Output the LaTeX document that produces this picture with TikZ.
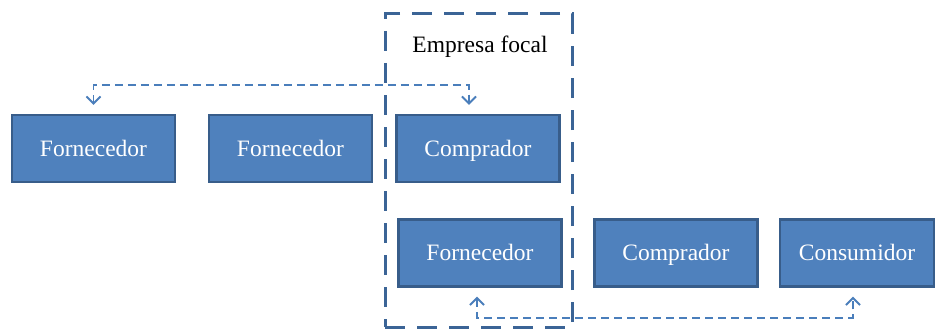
\documentclass[tikz,border=0pt]{standalone}
\usepackage{fontspec}
\setmainfont{Liberation Serif}
\usetikzlibrary{arrows.meta}
\definecolor{boxfill}{HTML}{4F81BD}
\definecolor{boxline}{HTML}{385D8A}
\definecolor{focalline}{HTML}{3B6496}
\definecolor{flowline}{HTML}{4A7EBB}
\tikzset{
  actor/.style={draw=boxline, line width=2.4pt, fill=boxfill, text=white,
    minimum width=163pt, minimum height=67pt, inner sep=0pt,
    text height=18pt, text depth=3pt,
    font=\fontsize{23.5}{26}\selectfont},
  focal/.style={draw=focalline, line width=3pt,
    dash pattern=on 20pt off 12pt, minimum width=187pt, minimum height=313pt, inner sep=0pt},
  flow/.style={draw=flowline, line width=1.9pt, dash pattern=on 8pt off 5pt,
    {Straight Barb[length=7pt,width=14pt]}-{Straight Barb[length=7pt,width=14pt]}}
}
\begin{document}
\begin{tikzpicture}[x=1pt, y=-1pt]
\useasboundingbox (0,0) rectangle (937,329);
% focal firm frame
\node[focal] (frame) at (478.5,170.5) {};
\node[font=\fontsize{23.5}{26}\selectfont] (title) at (480,47) {Empresa focal};
% upstream row
\node[actor] (f1) at (93.5,148.5) {Fornecedor};
\node[actor] (f2) at (290.5,148.5) {Fornecedor};
\node[actor] (c1) at (478,148.5) {Comprador};
% downstream row
\node[actor] (f3) at (480,253) {Fornecedor};
\node[actor] (c2) at (676,253) {Comprador};
\node[actor, minimum width=154pt] (cons) at (857,253) {Consumidor};
% information flows
\draw[flow] ([yshift=9pt]f1.north) -- ++(0,-20) -| ([xshift=-9pt,yshift=9pt]c1.north);
\draw[flow] ([xshift=-3pt,yshift=-9pt]f3.south) -- ++(0,21) -| ([xshift=-4pt,yshift=-9pt]cons.south);
\end{tikzpicture}
\end{document}
